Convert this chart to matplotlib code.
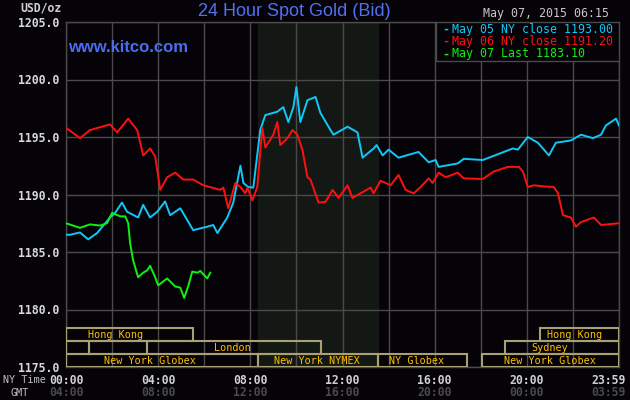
import matplotlib.pyplot as plt
import matplotlib.transforms as mtransforms
from matplotlib.patches import Rectangle

# hours since 00:00 NY time, price USD/oz
may05_hours = [0.0, 0.17, 0.61, 0.96, 1.35, 1.91, 2.13, 2.43, 2.65, 3.13, 3.35, 3.65, 3.96, 4.30, 4.52,
               4.96, 5.52, 6.13, 6.39, 6.57, 7.0, 7.26, 7.57, 7.70, 7.91, 8.13, 8.43, 8.65, 9.17, 9.43,
               9.65, 9.87, 10.0, 10.17, 10.48, 10.83, 11.04, 11.48, 11.61, 12.22, 12.65, 12.87, 13.35,
               13.48, 13.74, 14.0, 14.43, 15.30, 15.74, 16.04, 16.17, 17.0, 17.26, 18.09, 18.74, 19.39,
               19.61, 20.04, 20.48, 20.96, 21.26, 21.91, 22.35, 22.87, 23.22, 23.43, 23.87, 24.0]
may05_price = [1186.5, 1186.5, 1186.7, 1186.1, 1186.65, 1188.0, 1188.4, 1189.3, 1188.5, 1188.0, 1189.1,
               1188.0, 1188.5, 1189.4, 1188.2, 1188.8, 1186.9, 1187.2, 1187.35, 1186.65, 1188.0, 1189.3,
               1192.5, 1191.0, 1190.65, 1190.6, 1195.6, 1196.9, 1197.2, 1197.6, 1196.3, 1197.6, 1199.35,
               1196.3, 1198.2, 1198.48, 1197.1, 1195.6, 1195.2, 1195.9, 1195.4, 1193.2, 1194.0, 1194.3,
               1193.4, 1193.9, 1193.2, 1193.7, 1192.8, 1193.0, 1192.4, 1192.7, 1193.1, 1193.0, 1193.5,
               1194.0, 1193.9, 1195.0, 1194.5, 1193.4, 1194.5, 1194.7, 1195.2, 1194.9, 1195.2, 1196.0,
               1196.6, 1196.0]

may06_hours = [0.0, 0.61, 1.04, 1.91, 2.22, 2.70, 3.09, 3.35, 3.65, 3.87, 4.09, 4.39, 4.74, 5.09, 5.52,
               5.96, 6.70, 6.83, 7.04, 7.35, 7.57, 7.78, 7.87, 8.09, 8.30, 8.52, 8.65, 9.0, 9.17, 9.30,
               9.61, 9.83, 10.04, 10.26, 10.48, 10.61, 10.96, 11.26, 11.57, 11.83, 12.22, 12.43, 12.78,
               13.22, 13.35, 13.65, 14.09, 14.43, 14.74, 15.09, 15.39, 15.74, 15.91, 16.17, 16.48, 17.0,
               17.26, 18.09, 18.57, 19.17, 19.65, 19.83, 20.04, 20.30, 20.74, 21.17, 21.35, 21.57, 21.91,
               22.13, 22.35, 22.91, 23.22, 24.0]
may06_price = [1195.8, 1194.9, 1195.6, 1196.1, 1195.4, 1196.6, 1195.6, 1193.4, 1194.0, 1193.3, 1190.4,
               1191.5, 1191.9, 1191.3, 1191.3, 1190.8, 1190.4, 1190.6, 1188.8, 1191.0, 1190.65, 1190.1,
               1190.6, 1189.5, 1190.65, 1195.8, 1194.1, 1195.2, 1196.3, 1194.3, 1194.9, 1195.6, 1195.2,
               1193.9, 1191.5, 1191.3, 1189.3, 1189.35, 1190.4, 1189.7, 1190.8, 1189.7, 1190.1, 1190.6,
               1190.1, 1191.2, 1190.8, 1191.7, 1190.4, 1190.1, 1190.65, 1191.4, 1191.0, 1191.9, 1191.5,
               1191.9, 1191.4, 1191.35, 1192.0, 1192.4, 1192.4, 1192.0, 1190.65, 1190.8, 1190.7, 1190.65,
               1190.1, 1188.2, 1188.0, 1187.2, 1187.6, 1188.0, 1187.35, 1187.5]

may07_hours = [0.0, 0.61, 1.04, 1.48, 1.78, 2.0, 2.35, 2.57, 2.70, 2.78, 2.91, 3.13, 3.35, 3.52, 3.65,
               3.87, 4.0, 4.39, 4.74, 4.96, 5.13, 5.30, 5.48, 5.70, 5.83, 6.13, 6.26]
may07_price = [1187.5, 1187.1, 1187.4, 1187.3, 1187.5, 1188.4, 1188.1, 1188.1, 1187.5, 1185.8, 1184.3,
               1182.8, 1183.2, 1183.4, 1183.8, 1182.8, 1182.1, 1182.7, 1182.0, 1181.9, 1181.0, 1182.0,
               1183.3, 1183.2, 1183.35, 1182.7, 1183.2]

legend_labels = ["May 05 NY close 1193.00", "May 06 NY close 1191.20", "May 07 Last 1183.10"]
ny_labels = ["00:00", "04:00", "08:00", "12:00", "16:00", "20:00", "23:59"]
gmt_labels = ["04:00", "08:00", "12:00", "16:00", "20:00", "00:00", "03:59"]
label_hours = [0, 4, 8, 12, 16, 20, 24]

# session boxes: (row, start hour, end hour, label, label hour)
sessions = [
    (0, 0.0, 5.5, "Hong Kong", 2.15),
    (0, 20.55, 24.0, "Hong Kong", 22.05),
    (1, 0.0, 1.0, "", 0),
    (1, 1.0, 3.5, "", 0),
    (1, 3.5, 11.05, "London", 7.2),
    (1, 19.05, 24.0, "Sydney", 21.0),
    (2, 0.0, 8.33, "New York Globex", 3.65),
    (2, 8.33, 13.55, "New York NYMEX", 10.9),
    (2, 13.55, 17.4, "NY Globex", 15.2),
    (2, 18.05, 24.0, "New York Globex", 21.0),
]

bg = "#050308"
grid_c = "#4a4a4a"
mono = "DejaVu Sans Mono"
colors = ["#10c8f8", "#ff1010", "#10f010"]

fig = plt.figure(figsize=(6.3, 4.0), dpi=100, facecolor=bg)
ax = fig.add_axes([66 / 630, 1 - 367 / 400, 553 / 630, 345 / 400], facecolor=bg)
ax.set_xlim(0, 24)
ax.set_ylim(1175, 1205)

# NYMEX shading
ax.axvspan(8.33, 13.55, color="#141814", zorder=0)

ax.set_xticks(range(0, 25, 2))
ax.set_xticklabels([])
ax.set_yticks(range(1175, 1206, 5))
ax.set_yticklabels([f"{v:.1f}" for v in range(1175, 1206, 5)], family=mono,
                   fontweight="bold", fontsize=8.3, color="#d8d8d8")
ax.tick_params(length=0, pad=5)
ax.grid(True, color=grid_c, linewidth=1, zorder=1)
for s in ax.spines.values():
    s.set_color(grid_c)
    s.set_linewidth(1)

ax.plot(may05_hours, may05_price, color=colors[0], lw=1.4, zorder=3)
ax.plot(may06_hours, may06_price, color=colors[1], lw=1.4, zorder=3)
ax.plot(may07_hours, may07_price, color=colors[2], lw=1.4, zorder=4)

# sessions along the bottom
trans = mtransforms.blended_transform_factory(ax.transData, ax.transAxes)
row_h = 13 / 345
for row, h0, h1, name, lh in sessions:
    y0 = (2 - row) * row_h
    ax.add_patch(Rectangle((h0, y0), h1 - h0, row_h, transform=trans, fill=False,
                           edgecolor="#a8a272", lw=1.5, zorder=5))
    if name:
        ax.text(lh, y0 + row_h / 2 - 0.002, name, transform=trans, ha="center", va="center",
                family=mono, fontsize=7.3, color="#ffc000", zorder=6)

# legend box
lx0 = (436 - 66) / 553
ax.add_patch(Rectangle((lx0, 1 - 39 / 345), 1 - lx0, 39 / 345, transform=ax.transAxes,
                       facecolor=bg, edgecolor=grid_c, lw=1, zorder=7))
for i, (txt, c) in enumerate(zip(legend_labels, colors)):
    yy = 1 - (7 + 12.5 * i) / 345
    ax.text((442 - 66) / 553, yy, "-", transform=ax.transAxes, ha="left", va="center",
            family=mono, fontweight="bold", fontsize=8.4, color=c, zorder=8)
    ax.text((452 - 66) / 553, yy, txt, transform=ax.transAxes, ha="left", va="center",
            family=mono, fontsize=8.4, color=c, zorder=8)

# x labels, two rows
for h, ny, gmt in zip(label_hours, ny_labels, gmt_labels):
    ha = "right" if h == 24 else "center"
    xx = 24.3 if h == 24 else h
    ax.text(xx, -13 / 345, ny, transform=trans, ha=ha, va="center", family=mono,
            fontweight="bold", fontsize=8.3, color="#d0d0d0")
    ax.text(xx, -26 / 345, gmt, transform=trans, ha=ha, va="center", family=mono,
            fontweight="bold", fontsize=8.3, color="#4a4a4a")

fig.text(24 / 630, 1 - 380 / 400, "NY Time", ha="center", va="center", family=mono,
         fontsize=7.3, color="#c0c0c0")
fig.text(20 / 630, 1 - 393 / 400, "GMT", ha="center", va="center", family=mono,
         fontsize=7.3, color="#c0c0c0")
fig.text(41 / 630, 1 - 8 / 400, "USD/oz", ha="center", va="center", family=mono,
         fontweight="bold", fontsize=8.3, color="#d0d0d0")
fig.text(294 / 630, 1 - 11 / 400, "24 Hour Spot Gold (Bid)", ha="center", va="center",
         family="Liberation Sans", fontsize=13, color="#5070f0")
fig.text(68 / 630, 1 - 48 / 400, "www.kitco.com", ha="left", va="center",
         family="Liberation Sans", fontweight="bold", fontsize=12, color="#4a6cf0")
fig.text(546 / 630, 1 - 14 / 400, "May 07, 2015 06:15", ha="center", va="center", family=mono,
         fontsize=8.4, color="#c8c8c8")

fig.savefig("out.png", dpi=100, facecolor=bg)
